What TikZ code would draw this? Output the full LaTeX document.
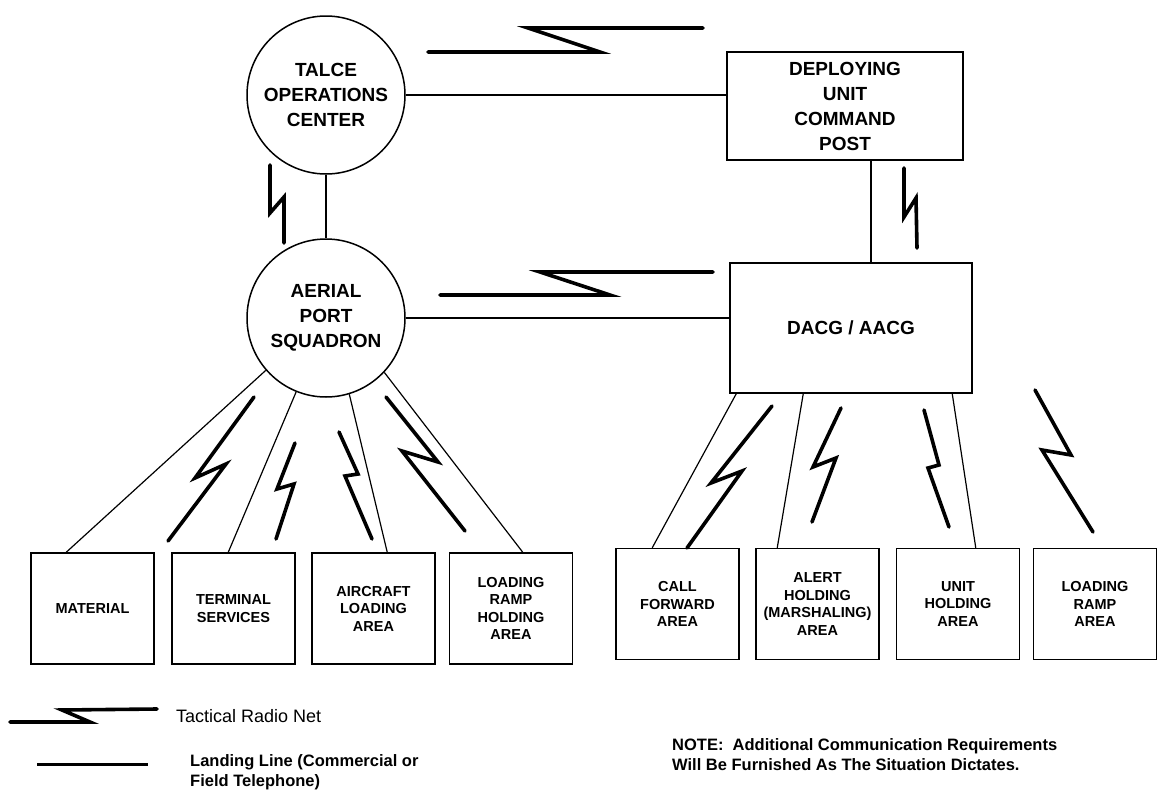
\documentclass[tikz,border=0pt]{standalone}
\usepackage{fontspec}
\setmainfont{Liberation Sans}
\usetikzlibrary{calc}
\begin{document}
\begin{tikzpicture}[x=1pt,y=-1pt,
  landline/.style={line width=1.2pt},
  radio/.style={line width=3.6pt, line cap=round, line join=miter},
  hub/.style={draw, circle, line width=1.5pt, minimum size=158pt, inner sep=0pt,
    align=center, font=\fontsize{19}{25}\selectfont\bfseries},
  post/.style={draw, rectangle, line width=1.5pt, inner sep=0pt, align=center,
    font=\fontsize{19}{25}\selectfont\bfseries},
  area/.style={draw, rectangle, line width=1.5pt, minimum width=123pt,
    minimum height=111pt, inner sep=0pt, align=center,
    font=\fontsize{14.5}{17.5}\selectfont\bfseries},
  legendtext/.style={anchor=west, align=left, inner sep=0pt},
]
\useasboundingbox (0,0) rectangle (1157,798);

% command and control elements
\node[hub] (talce) at (326,95) {TALCE\\OPERATIONS\\CENTER};
\node[hub] (aps) at (326,318) {AERIAL\\PORT\\SQUADRON};
\node[post, minimum width=236pt, minimum height=108pt] (deploy) at (845,106)
  {DEPLOYING\\UNIT\\COMMAND\\POST};
\node[post, minimum width=242pt, minimum height=130pt] (dacg) at (851,328)
  {DACG / AACG};

% work areas under the aerial port squadron
\node[area] (mat) at (92.5,608.5) {MATERIAL};
\node[area] (term) at (233.5,608.5) {TERMINAL\\SERVICES};
\node[area] (acft) at (373.5,608.5) {AIRCRAFT\\LOADING\\AREA};
\node[area] (lrh) at (511,608.5) {LOADING\\RAMP\\HOLDING\\AREA};

% work areas under the DACG / AACG
\node[area] (call) at (677.5,604) {CALL\\FORWARD\\AREA};
\node[area] (alert) at (817.5,604) {ALERT\\HOLDING\\(MARSHALING)\\AREA};
\node[area] (unit) at (958,604) {UNIT\\HOLDING\\AREA};
\node[area] (ramp) at (1095,604) {LOADING\\RAMP\\AREA};

% landing lines
\draw[landline] (talce.south) -- (aps.north);
\draw[landline] (talce.east) -- (talce.east -| deploy.west);
\draw[landline] (aps.east) -- (aps.east -| dacg.west);
\draw[landline] ([xshift=26pt]deploy.south) -- ([xshift=26pt]deploy.south |- dacg.north);

\draw[landline] (aps.221) -- ([xshift=36pt]mat.north west);
\draw[landline] (aps.248) -- ([xshift=57pt]term.north west);
\draw[landline] (aps.287) -- ([xshift=76pt]acft.north west);
\draw[landline] (aps.317) -- ([xshift=74pt]lrh.north west);

\draw[landline] ([xshift=7pt]dacg.south west) -- ([xshift=37pt]call.north west);
\draw[landline] ([xshift=74pt]dacg.south west) -- ([xshift=22pt]alert.north west);
\draw[landline] ([xshift=223pt]dacg.south west) -- ([xshift=80pt]unit.north west);

% tactical radio nets
\draw[radio] (428,52) -- (600,52) -- (528,28) -- (703,28);
\draw[radio] (440,295) -- (610,295) -- (540,272) -- (713,272);
\draw[radio] (270,165) -- (270,213) -- (284,197) -- (284,243);
\draw[radio] (904,168) -- (904,217) -- (916,198) -- (917,248);

\draw[radio] (254,397) -- (195,478) -- (226,464) -- (168,541);
\draw[radio] (295,443) -- (277,489) -- (294,484) -- (276,539);
\draw[radio] (339,432) -- (358,474) -- (345,476) -- (372,539);
\draw[radio] (386,397) -- (438,462) -- (402,451) -- (465,531);

\draw[radio] (772,406) -- (711,483) -- (742,471) -- (687,548);
\draw[radio] (841,408) -- (813,467) -- (836,458) -- (812,522);
\draw[radio] (924,410) -- (939,465) -- (928,468) -- (949,527);
\draw[radio] (1035,390) -- (1071,455) -- (1042,450) -- (1093,532);

% legend
\draw[radio] (10,722) -- (90,722) -- (62,710) -- (157,709);
\node[legendtext, font=\fontsize{18}{21}\selectfont] (radiokey) at (176,716) {Tactical Radio Net};
\draw[line width=3pt] (37,764) -- (148,764);
\node[legendtext, font=\fontsize{16.5}{20}\selectfont\bfseries] (linekey) at (190,772)
  {Landing Line (Commercial or\\Field Telephone)};

% note
\node[legendtext, font=\fontsize{16.5}{20}\selectfont\bfseries] (note) at (672,755)
  {NOTE:\ \ Additional Communication Requirements\\Will Be Furnished As The Situation Dictates.};
\end{tikzpicture}
\end{document}
